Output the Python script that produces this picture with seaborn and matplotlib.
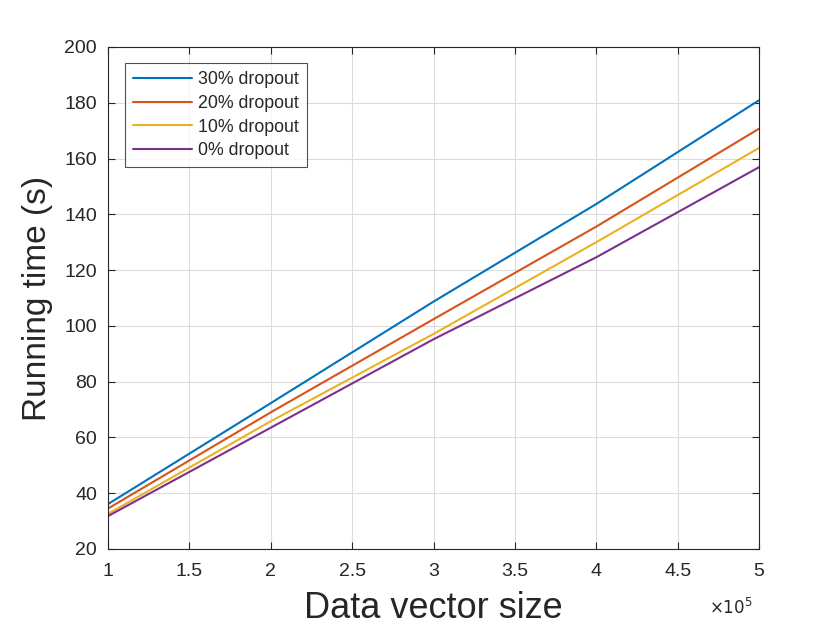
import pandas as pd
import numpy as np
import matplotlib.pyplot as plt
import seaborn as sns

sns.set_style('white')
plt.rcParams['font.family'] = ['Liberation Sans', 'DejaVu Sans']

# data vector size (x 10^5)
sizes = [1, 2, 3, 4, 5]
labels = ['30% dropout', '20% dropout', '10% dropout', '0% dropout']
t30 = [36.1, 72.3, 108.7, 143.7, 180.9]
t20 = [34.5, 69.0, 102.4, 135.6, 170.7]
t10 = [32.6, 65.8, 97.1, 130.0, 163.8]
t0 = [31.8, 63.5, 95.2, 124.6, 156.9]
colores = ['#0072BD', '#D95319', '#EDB120', '#7E2F8E']

df = pd.DataFrame({
    'size': sizes * 4,
    'time': t30 + t20 + t10 + t0,
    'serie': np.repeat(labels, len(sizes)),
})

fig = plt.figure(figsize=(8.4, 6.3), dpi=100)
ax = fig.add_axes([0.1286, 0.1286, 0.775, 0.7968])
sns.lineplot(data=df, x='size', y='time', hue='serie', hue_order=labels,
             palette=colores, linewidth=1.5, ax=ax)

ax.set_xlim(1, 5)
ax.set_ylim(20, 200)
ax.set_xticks(np.arange(1, 5.01, 0.5))
ax.set_xticklabels(['1', '1.5', '2', '2.5', '3', '3.5', '4', '4.5', '5'])
ax.set_yticks(np.arange(20, 201, 20))
ax.grid(True, color='#dcdcdc', linewidth=0.8)
ax.tick_params(direction='in', length=5, labelsize=14, colors='#262626',
               top=True, right=True, bottom=True, left=True)
ax.tick_params(axis='x', pad=10)
ax.tick_params(axis='y', pad=8)
for s in ax.spines.values():
    s.set_color('#262626')
    s.set_linewidth(0.8)
ax.set_xlabel('Data vector size', fontsize=26, color='#262626', labelpad=8)
ax.set_ylabel('Running time (s)', fontsize=24, color='#262626', labelpad=8)
ax.text(0.99, -0.095, r'$\times10^5$', transform=ax.transAxes, ha='right',
        va='top', fontsize=12, color='#262626')

leg = ax.legend(loc='upper left', bbox_to_anchor=(0.026, 0.968), fontsize=12.8,
                frameon=True, fancybox=False, edgecolor='#262626',
                handlelength=3.3, handletextpad=0.35, borderpad=0.45,
                labelspacing=0.38, borderaxespad=0, title=None)
leg.get_frame().set_linewidth(0.8)

fig.savefig('out.png', dpi=100)
